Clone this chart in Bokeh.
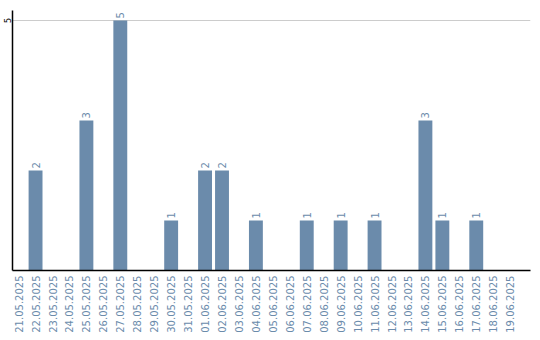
import math
from bokeh.plotting import figure
from bokeh.models import Range1d, FixedTicker, ColumnDataSource
from bokeh.embed import file_html
from bokeh.resources import INLINE

dates = ["21.05.2025", "22.05.2025", "23.05.2025", "24.05.2025", "25.05.2025",
         "26.05.2025", "27.05.2025", "28.05.2025", "29.05.2025", "30.05.2025",
         "31.05.2025", "01.06.2025", "02.06.2025", "03.06.2025", "04.06.2025",
         "05.06.2025", "06.06.2025", "07.06.2025", "08.06.2025", "09.06.2025",
         "10.06.2025", "11.06.2025", "12.06.2025", "13.06.2025", "14.06.2025",
         "15.06.2025", "16.06.2025", "17.06.2025", "18.06.2025", "19.06.2025"]
counts = [0, 2, 0, 0, 3, 0, 5, 0, 0, 1,
          0, 2, 2, 0, 1, 0, 0, 1, 0, 1,
          0, 1, 0, 0, 3, 1, 0, 1, 0, 0]
y_ticks = [5]

BAR = "#6b8bab"
FONT = "DejaVu Sans"

xs = list(range(len(dates)))
src = ColumnDataSource(dict(x=xs, y=counts))
lab = ColumnDataSource(dict(x=[x for x, c in zip(xs, counts) if c > 0],
                            y=[c for c in counts if c > 0],
                            t=[str(c) for c in counts if c > 0]))

p = figure(width=540, height=340, output_backend="svg", toolbar_location=None,
           x_range=Range1d(-0.36, len(dates) + 0.2), y_range=Range1d(0, 5.2),
           min_border_left=10, min_border_right=10, min_border_top=10,
           min_border_bottom=70)
p.outline_line_color = None
p.background_fill_color = "white"
p.border_fill_color = "white"

p.vbar(x="x", top="y", width=0.82, bottom=0, source=src,
       fill_color=BAR, line_color=None)
p.text(x="x", y="y", text="t", source=lab, angle=math.pi / 2,
       text_align="left", text_baseline="middle", y_offset=-2,
       text_color=BAR, text_font_size="10px", text_font={"value": FONT})

p.xgrid.grid_line_color = None
p.ygrid.ticker = FixedTicker(ticks=y_ticks)
p.ygrid.grid_line_color = "#cccccc"

xa = p.xaxis[0]
xa.ticker = FixedTicker(ticks=xs)
xa.major_label_overrides = {i: d for i, d in enumerate(dates)}
xa.major_label_orientation = math.pi / 2
xa.major_label_text_color = BAR
xa.major_label_text_font = FONT
xa.major_label_text_font_size = "10px"
xa.major_label_standoff = 5
xa.major_tick_out = 0
xa.major_tick_in = 0
xa.major_tick_line_color = None
xa.minor_tick_line_color = None
xa.axis_line_color = "black"
xa.axis_line_width = 1.5

ya = p.yaxis[0]
ya.ticker = FixedTicker(ticks=y_ticks)
ya.major_label_orientation = "vertical"
ya.major_label_text_color = "black"
ya.major_label_text_font = FONT
ya.major_label_text_font_size = "8px"
ya.major_label_standoff = 2
ya.major_tick_out = 0
ya.major_tick_in = 0
ya.major_tick_line_color = None
ya.minor_tick_line_color = None
ya.axis_line_color = "black"
ya.axis_line_width = 1.5

open("out.html", "w").write(file_html(p, INLINE))
